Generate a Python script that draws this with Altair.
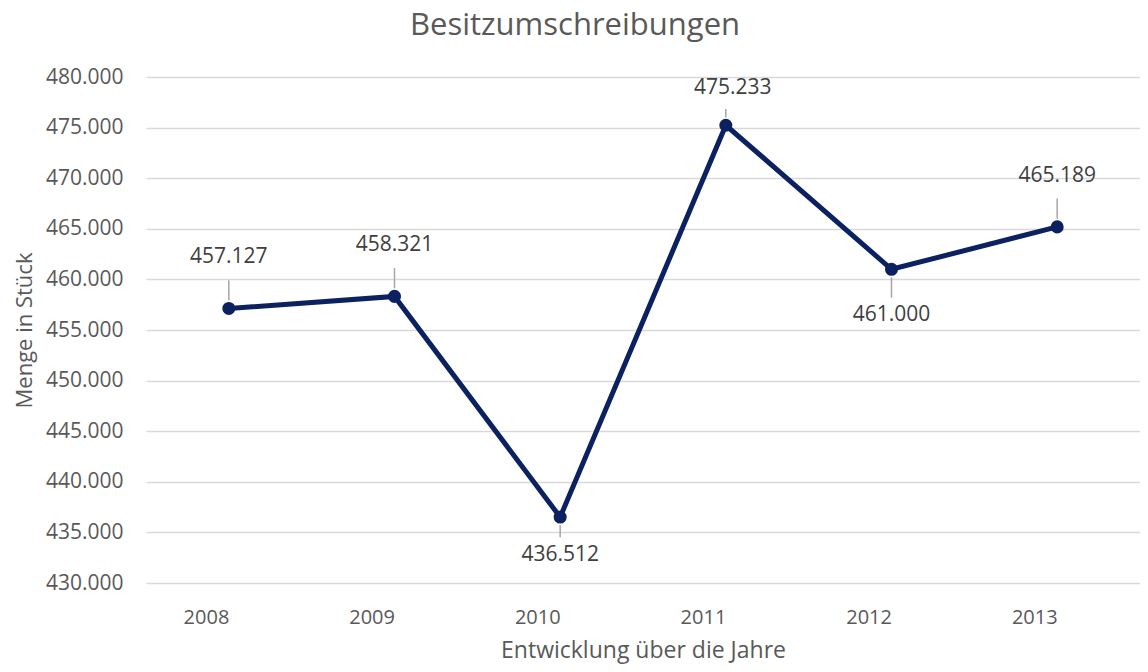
import altair as alt
import pandas as pd

years = ["2008", "2009", "2010", "2011", "2012", "2013"]
values = [457127, 458321, 436512, 475233, 461000, 465189]
placement = ["above", "above", "below_near", "above_near", "below", "above"]
y_ticks = [430000, 435000, 440000, 445000, 450000, 455000, 460000, 465000, 470000, 475000, 480000]

df = pd.DataFrame({"year": years, "value": values, "placement": placement})

FONT = "Open Sans"
NAVY = "#0c2160"
GREY = "#595959"

x = alt.X("year:N", sort=years, scale=alt.Scale(type="point", padding=0.5),
          axis=alt.Axis(title="Entwicklung über die Jahre", labelAngle=0, labelFont=FONT,
                        labelFontSize=20, labelColor=GREY, labelPadding=34, ticks=False,
                        domain=False, grid=False, titleFont=FONT, titleFontSize=23,
                        titleColor=GREY, titleFontWeight="normal", titleY=67,
                        titleBaseline="middle"))
y = alt.Y("value:Q", scale=alt.Scale(domain=[430000, 480000], nice=False, zero=False),
          axis=alt.Axis(title="Menge in Stück", values=y_ticks,
                        labelExpr="replace(format(datum.value, ','), ',', '.')",
                        labelFont=FONT, labelFontSize=21, labelColor=GREY, labelPadding=23,
                        ticks=False, domain=False, gridColor="#d9d9d9", gridWidth=1.5,
                        titleFont=FONT, titleFontSize=22, titleColor=GREY,
                        titleFontWeight="normal", titleX=-115, titleY=253,
                        titleAngle=-90, titleBaseline="alphabetic", titleAlign="center"))

base = alt.Chart(df).encode(x=x, y=y)

line = base.mark_line(color=NAVY, strokeWidth=5)
pts = base.mark_circle(color=NAVY, size=170, opacity=1)

lab = base.transform_calculate(
    label="replace(format(datum.value, ','), ',', '.')"
)
def labels(place, dy, dx=0):
    return lab.transform_filter(f"datum.placement == '{place}'").mark_text(
        font=FONT, fontSize=21, color="#404040", dy=dy, dx=dx, baseline="middle"
    ).encode(text="label:N")

txt_above = labels("above", -51)
txt_near = labels("above_near", -37, 7)
txt_below = labels("below", 46)
txt_below_near = labels("below_near", 38)

lead = alt.Chart(df).transform_calculate(
    d="indexof(datum.placement, 'below') == 0 ? -1 : 1",
    y1="datum.value + datum.d * 800",
    y2="datum.value + datum.d * (datum.placement == 'above_near' ? 1600 : (datum.placement == 'below_near' ? 2000 : 2800))",
).mark_rule(color="#a6a6a6", strokeWidth=1.5).encode(
    x=alt.X("year:N", sort=years, scale=alt.Scale(type="point", padding=0.5)),
    y=alt.Y("y1:Q", scale=alt.Scale(domain=[430000, 480000], nice=False, zero=False)),
    y2="y2:Q",
)

chart = alt.layer(lead, line, pts, txt_above, txt_near, txt_below, txt_below_near).properties(
    width=994, height=506,
    title=alt.TitleParams("Besitzumschreibungen", font=FONT, fontSize=31, color=GREY,
                          fontWeight="normal", anchor="middle", dx=-68, offset=24),
    autosize=alt.AutoSizeParams(type="none"),
    padding={"left": 138, "top": 69, "right": 0, "bottom": 81},
).configure_view(stroke=None)

chart.save("out.html", embed_options={"renderer": "svg", "actions": False})
